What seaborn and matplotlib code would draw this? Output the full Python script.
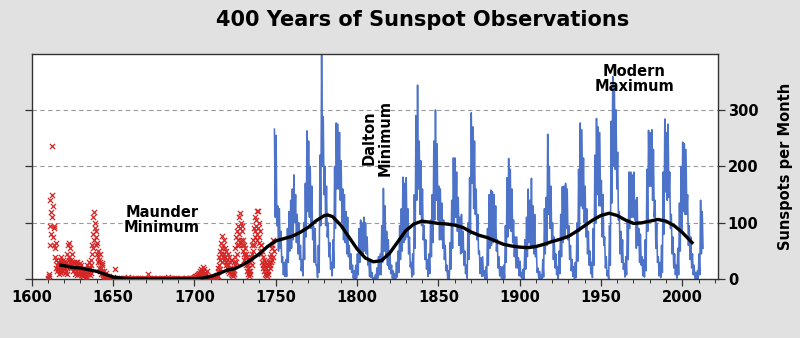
import numpy as np
import matplotlib
matplotlib.use("Agg")
import matplotlib.pyplot as plt
import seaborn as sns
from matplotlib.ticker import MultipleLocator

# ---------------- data ----------------
# Red: group sunspot estimates, 4 samples per year starting 1610 (None = no data)
red_start = 1610
red_step = 0.25
red_vals = [
    0, 2, 5, 10,        # 1610
    60, 95, 140, 120,   # 1611
    80, 237, 150, 110,  # 1612
    75, 130, 95, 60,    # 1613
    90, 55, 40, 65,     # 1614
    20, 35, 15, 25,     # 1615
    30, 18, 22, 10,
    28, 15, 35, 12,
    40, 20, 30, 15,
    25, 35, 18, 22,
    30, 12, 25, 20,     # 1620
    15, 30, 10, 22,
    45, 60, 25, 35,
    65, 40, 55, 30,
    35, 20, 45, 25,
    30, 22, 15, 28,     # 1625
    20, 30, 10, 18,
    25, 15, 30, 8,
    30, 20, 12, 25,
    18, 10, 28, 15,
    20, 12, 25, 8,      # 1630
    10, 15, 5, 12,
    8, 15, 3, 10,
    12, 5, 18, 2,
    15, 25, 10, 20,
    30, 15, 22, 8,      # 1635
    20, 35, 12, 25,
    60, 45, 80, 55,
    110, 70, 120, 90,
    100, 75, 85, 60,
    65, 45, 30, 50,     # 1640
    40, 20, 35, 15,
    30, 45, 20, 10,
    25, 15, 28, 8,
    10, 5, 15, 3,
    8, 2, 12, 0,        # 1645
    5, 0, 3, 0,
    2, 0, 5, 0,
    0, 3, 0, 1,
    2, 0, 0, 4,
    0, 2, 0, 0,         # 1650
    3, 0, 18, 0,
    0, 2, 0, 1,
    0, 0, 3, 0,
    0, 1, 0, 0,
    2, 0, 0, 1,         # 1655
    0, 0, 3, 0,
    0, 1, 0, 0,
    1, 0, 0, 2,
    0, 4, 0, 0,
    0, 0, 1, 0,         # 1660
    2, 0, 0, 0,
    0, 0, 0, 1,
    0, 2, 0, 0,
    0, 0, 0, 0,
    1, 0, 2, 0,         # 1665
    0, 0, 0, 3,
    0, 1, 0, 0,
    0, 0, 0, 0,
    2, 0, 1, 0,
    0, 0, 0, 0,         # 1670
    0, 9, 0, 1,
    0, 0, 2, 0,
    1, 0, 0, 0,
    0, 0, 0, 2,
    0, 3, 0, 0,         # 1675
    0, 0, 1, 0,
    2, 0, 0, 0,
    0, 1, 0, 0,
    0, 0, 0, 1,
    3, 0, 0, 0,         # 1680
    0, 0, 2, 0,
    0, 1, 0, 0,
    0, 0, 0, 0,
    4, 0, 1, 0,
    0, 0, 0, 2,         # 1685
    1, 0, 0, 0,
    0, 2, 0, 0,
    0, 0, 3, 0,
    1, 0, 0, 0,
    0, 0, 0, 1,         # 1690
    0, 0, 0, 0,
    2, 0, 1, 0,
    0, 0, 0, 0,
    0, 1, 0, 2,
    3, 0, 0, 0,         # 1695
    0, 0, 2, 0,
    0, 1, 0, 0,
    2, 0, 0, 3,
    0, 2, 4, 0,
    3, 0, 5, 1,         # 1700
    4, 6, 2, 8,
    5, 10, 3, 7,
    12, 6, 15, 9,
    8, 18, 10, 14,
    5, 15, 22, 8,       # 1705
    10, 18, 6, 12,
    4, 9, 14, 3,
    2, 6, 0, 4,
    0, 3, 1, 0,
    0, 2, 0, 1,         # 1710
    0, 0, 2, 0,
    0, 1, 0, 0,
    1, 3, 0, 5,
    8, 15, 5, 20,
    25, 40, 18, 50,     # 1715
    35, 65, 45, 30,
    55, 77, 40, 60,
    45, 70, 35, 55,
    40, 25, 50, 30,
    35, 20, 45, 15,     # 1720
    25, 40, 12, 30,
    20, 10, 35, 15,
    8, 20, 12, 5,
    15, 30, 10, 25,
    40, 55, 30, 75,     # 1725
    60, 85, 45, 70,
    95, 60, 110, 80,
    117, 90, 70, 100,
    85, 60, 95, 50,
    70, 45, 60, 35,     # 1730
    40, 55, 25, 45,
    30, 15, 40, 20,
    10, 25, 5, 15,
    15, 30, 10, 40,
    35, 60, 45, 25,     # 1735
    70, 50, 90, 60,
    85, 110, 75, 95,
    105, 80, 121, 70,
    90, 121, 65, 100,
    75, 50, 85, 60,     # 1740
    45, 60, 30, 50,
    25, 40, 20, 35,
    15, 30, 10, 25,
    8, 20, 5, 15,
    10, 25, 15, 30,     # 1745
    30, 20, 40, 25,
    45, 30, 55, 35,
    60, 40, 70, 50,     # 1748
]

# Blue: observed sunspots per month, 2 samples per year starting 1749
blue_start = 1749
blue_step = 0.5
blue_vals = [
    266, 110, 255, 95, 130, 50, 125, 55, 85, 30,            # 1749-1753
    40, 8, 30, 5, 35, 5, 90, 30, 120, 50,                  # 1754-1758
    140, 55, 160, 70, 185, 100, 150, 65, 115, 45,          # 1759-1763
    100, 35, 60, 15, 35, 6, 100, 35, 170, 75,              # 1764-1768
    263, 120, 245, 110, 200, 90, 165, 70, 95, 30,          # 1769-1773
    90, 25, 25, 3, 60, 12, 220, 95, 398, 200,              # 1774-1778
    288, 150, 200, 95, 165, 75, 100, 40, 65, 18,           # 1779-1783
    30, 6, 70, 20, 200, 90, 277, 160, 275, 160,            # 1784-1788
    260, 140, 210, 100, 160, 70, 150, 65, 120, 45,         # 1789-1793
    110, 40, 60, 18, 45, 12, 25, 2, 15, 1,                 # 1794-1798
    25, 2, 45, 8, 90, 30, 105, 45, 100, 45,                # 1799-1803
    110, 50, 100, 45, 75, 25, 35, 5, 30, 3,                # 1804-1808
    12, 0, 2, 0, 8, 0, 20, 2, 40, 8,                       # 1809-1813
    45, 8, 95, 30, 161, 50, 130, 40, 85, 25,               # 1814-1818
    70, 18, 50, 10, 25, 2, 15, 1, 10, 0,                   # 1819-1823
    30, 4, 50, 12, 95, 35, 125, 50, 181, 65,               # 1824-1828
    170, 70, 180, 75, 125, 45, 75, 22, 30, 4,              # 1829-1833
    45, 8, 150, 55, 290, 140, 344, 160, 245, 115,          # 1834-1838
    210, 95, 160, 70, 95, 35, 70, 18, 35, 5,               # 1839-1843
    45, 10, 105, 40, 150, 65, 245, 105, 300, 140,          # 1844-1848
    240, 105, 165, 70, 160, 70, 135, 55, 105, 35,          # 1849-1853
    60, 15, 25, 2, 15, 1, 65, 18, 140, 55,                 # 1854-1858
    215, 100, 215, 110, 190, 85, 145, 60, 110, 45,         # 1859-1863
    115, 48, 85, 25, 50, 10, 25, 2, 100, 35,               # 1864-1868
    180, 80, 295, 170, 270, 125, 245, 115, 160, 70,        # 1869-1873
    115, 45, 50, 10, 38, 5, 40, 6, 15, 0,                  # 1874-1878
    22, 1, 90, 25, 150, 55, 158, 60, 155, 65,              # 1879-1883
    150, 70, 130, 50, 70, 20, 40, 6, 22, 2,                # 1884-1888
    22, 1, 25, 2, 95, 30, 180, 75, 214, 90,                # 1889-1893
    195, 85, 160, 65, 105, 40, 75, 20, 75, 20,             # 1894-1898
    38, 6, 32, 4, 12, 0, 18, 1, 70, 18,                    # 1899-1903
    110, 40, 160, 65, 140, 55, 179, 60, 130, 45,           # 1904-1908
    115, 40, 55, 12, 20, 2, 14, 0, 8, 0,                   # 1909-1913
    35, 4, 125, 45, 145, 60, 257, 115, 200, 90,            # 1914-1918
    165, 65, 100, 35, 75, 20, 45, 8, 22, 1,                # 1919-1923
    50, 10, 115, 40, 164, 65, 165, 75, 170, 90,            # 1924-1928
    160, 70, 95, 35, 60, 15, 35, 5, 22, 1,                 # 1929-1933
    30, 3, 100, 32, 195, 85, 277, 130, 265, 125,           # 1934-1938
    215, 100, 165, 75, 125, 45, 85, 25, 50, 10,            # 1939-1943
    30, 3, 90, 25, 220, 100, 285, 150, 270, 130,           # 1944-1948
    260, 130, 175, 75, 150, 60, 75, 20, 40, 6,             # 1949-1953
    15, 0, 95, 25, 280, 135, 359, 200, 340, 195,           # 1954-1958
    300, 160, 225, 105, 120, 45, 85, 30, 70, 18,           # 1959-1963
    28, 4, 40, 8, 105, 35, 190, 90, 190, 110,              # 1964-1968
    185, 110, 190, 105, 140, 55, 145, 60, 90, 30,          # 1969-1973
    80, 25, 40, 6, 35, 4, 70, 15, 195, 85,                 # 1974-1978
    264, 165, 260, 165, 265, 140, 230, 110, 140, 55,       # 1979-1983
    100, 30, 40, 6, 30, 3, 60, 12, 190, 80,                # 1984-1988
    284, 155, 260, 140, 275, 145, 190, 90, 115, 45,        # 1989-1993
    75, 20, 45, 8, 25, 2, 55, 8, 135, 50,                  # 1994-1998
    200, 85, 243, 120, 240, 115, 230, 115, 150, 60,        # 1999-2003
    95, 35, 75, 20, 45, 8, 25, 2, 12, 0,                   # 2004-2008
    15, 0, 45, 8, 140, 45, 120, 55,                        # 2009-2012
]

# Black: long-term smoothed average
trend_years = [1618, 1620, 1625, 1630, 1635, 1640, 1645, 1650, 1655, 1660,
               1665, 1670, 1675, 1680, 1685, 1690, 1695, 1700, 1705, 1710,
               1715, 1720, 1725, 1730, 1735, 1740, 1745, 1750, 1755, 1760,
               1765, 1770, 1775, 1780, 1782, 1785, 1790, 1795, 1800, 1805,
               1810, 1815, 1820, 1825, 1830, 1835, 1840, 1845, 1850, 1855,
               1860, 1865, 1870, 1875, 1880, 1885, 1890, 1895, 1900, 1905,
               1910, 1915, 1920, 1925, 1930, 1935, 1940, 1945, 1950, 1955,
               1960, 1965, 1970, 1975, 1980, 1985, 1990, 1995, 2000, 2006]
trend_vals = [25, 24, 21, 20, 17, 14, 9, 4, 2, 1,
              0.5, 0.5, 0.5, 0.5, 0.5, 1, 1, 1, 2, 5,
              10, 16, 19, 26, 35, 45, 58, 68, 72, 76,
              83, 92, 104, 113, 114, 111, 96, 75, 54, 38,
              31, 33, 46, 66, 86, 98, 103, 101, 99, 98,
              96, 92, 84, 78, 74, 68, 62, 59, 57, 56,
              58, 62, 67, 71, 76, 85, 95, 105, 113, 117,
              113, 105, 99, 100, 103, 106, 103, 95, 83, 65]

x_ticks = [1600, 1650, 1700, 1750, 1800, 1850, 1900, 1950, 2000]
y_ticks = [0, 100, 200, 300]

# ---------------- plot ----------------
red_x = red_start + red_step * np.arange(len(red_vals))
red_y = np.array([np.nan if v is None else v for v in red_vals], dtype=float)
blue_x = blue_start + blue_step / 2 + blue_step * np.arange(len(blue_vals))
blue_y = np.array(blue_vals, dtype=float)

bg = "#e1e1e1"
fig = plt.figure(figsize=(8, 3.38), dpi=100, facecolor=bg)
ax = fig.add_axes([0.0396, 0.1737, 0.858, 0.668])
ax.set_facecolor("white")

sns.lineplot(x=blue_x, y=blue_y, color="#4d73c8", linewidth=1.15,
             estimator=None, sort=False, ax=ax, zorder=2)
sns.scatterplot(x=red_x, y=red_y, marker="x", color="#d42626", s=14,
                linewidth=0.9, ax=ax, zorder=3)
sns.lineplot(x=trend_years, y=trend_vals, color="black", linewidth=2.4,
             estimator=None, ax=ax, zorder=4)

ax.set_xlim(1600, 2022)
ax.set_ylim(0, 400)
ax.set_xticks(x_ticks)
ax.set_xticklabels([str(t) for t in x_ticks])
ax.xaxis.set_minor_locator(MultipleLocator(10))
ax.set_yticks(y_ticks)
ax.set_yticklabels([str(t) for t in y_ticks])
ax.yaxis.grid(True, linestyle=(0, (4, 3)), color="#9a9a9a", linewidth=0.8)
ax.xaxis.grid(False)
ax.set_axisbelow(True)

ax.tick_params(axis="y", left=True, right=True, labelleft=False, labelright=True,
               direction="out", length=5, width=0.9, color="#333333", pad=2)
ax.tick_params(axis="x", which="major", direction="out", length=5, width=0.9,
               color="#333333", pad=3)
ax.tick_params(axis="x", which="minor", direction="out", length=3, width=0.7,
               color="#333333")
for lab in ax.get_xticklabels() + ax.get_yticklabels():
    lab.set_fontweight("bold")
    lab.set_fontsize(10.5)

for sp in ax.spines.values():
    sp.set_color("#333333")
    sp.set_linewidth(1.0)

ax.yaxis.set_label_position("right")
ax.set_ylabel("Sunspots per Month", fontsize=10.5, fontweight="bold", labelpad=14)
ax.set_xlabel("")

ax.text(1680, 105, "Maunder\nMinimum", ha="center", va="center",
        fontsize=10.5, fontweight="bold", linespacing=1.05, zorder=6)
ax.text(1812.5, 250, "Dalton\nMinimum", ha="center", va="center", rotation=90,
        fontsize=10.5, fontweight="bold", linespacing=1.05, zorder=6)
ax.text(1970.5, 355, "Modern\nMaximum", ha="center", va="center",
        fontsize=10.5, fontweight="bold", linespacing=1.05, zorder=6)

fig.text(423 / 800, 1 - 20 / 338, "400 Years of Sunspot Observations",
         ha="center", va="center", fontsize=15, fontweight="bold")

fig.savefig("out.png", dpi=100, facecolor=bg)
